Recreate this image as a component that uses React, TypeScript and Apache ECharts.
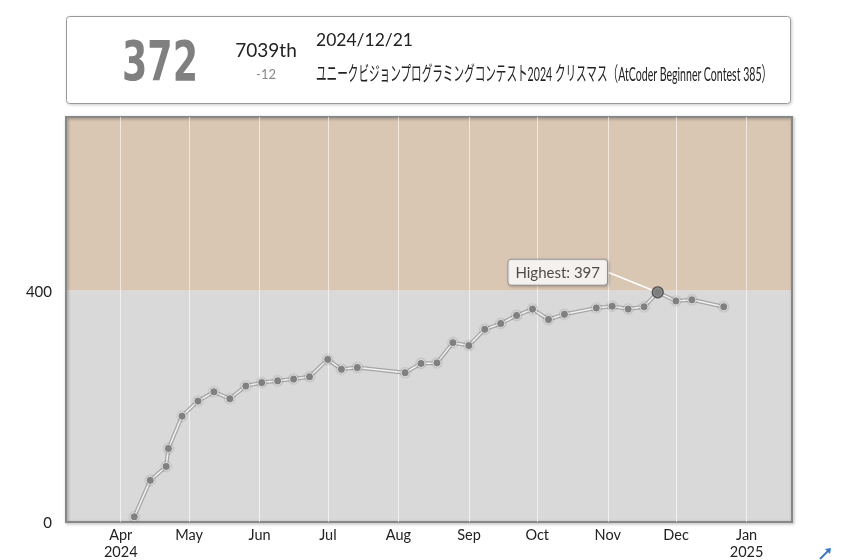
import React, { useEffect, useRef } from 'react';
import * as echarts from 'echarts';

// ---- data ----
const contestDates = [
  '2024-04-06', '2024-04-13', '2024-04-20', '2024-04-21', '2024-04-27',
  '2024-05-04', '2024-05-11', '2024-05-18', '2024-05-25',
  '2024-06-01', '2024-06-08', '2024-06-15', '2024-06-22', '2024-06-30',
  '2024-07-06', '2024-07-13',
  '2024-08-03', '2024-08-10', '2024-08-17', '2024-08-24', '2024-08-31',
  '2024-09-07', '2024-09-14', '2024-09-21', '2024-09-28',
  '2024-10-05', '2024-10-12', '2024-10-26',
  '2024-11-02', '2024-11-09', '2024-11-16', '2024-11-22', '2024-11-30',
  '2024-12-07', '2024-12-21',
];
const ratings = [
  9, 72, 96, 127, 183,
  209, 225, 213, 235,
  241, 244, 247, 251, 281,
  264, 267,
  258, 274, 275, 310, 305,
  333, 343, 357, 368,
  350, 359, 370,
  373, 368, 372, 397, 382,
  384, 372,
];
const monthTicks = [
  '2024-04-01', '2024-05-01', '2024-06-01', '2024-07-01', '2024-08-01',
  '2024-09-01', '2024-10-01', '2024-11-01', '2024-12-01', '2025-01-01',
];
const monthNames = ['Jan', 'Feb', 'Mar', 'Apr', 'May', 'Jun', 'Jul', 'Aug', 'Sep', 'Oct', 'Nov', 'Dec'];
const yTicks = [0, 400];
const yMax = 700;
const bandEdges = [0, 400, 800];
const latestRating = '372';
const latestRank = '7039th';
const latestDiff = '-12';
const latestDate = '2024/12/21';
const latestName = 'ユニークビジョンプログラミングコンテスト2024 クリスマス（AtCoder Beginner Contest 385）';

const bandColors = ['#D9D9D9', '#D9C6B3'];

export default function App() {
  const ref = useRef<HTMLDivElement>(null);
  useEffect(() => {
    const chart = echarts.init(ref.current!, null, { renderer: 'svg' });
    const DAY = 864e5;
    const times = contestDates.map((d) => new Date(d + 'T22:40:00').getTime());
    const data = times.map((t, i) => [t, ratings[i]]);
    const hi = ratings.indexOf(Math.max(...ratings));
    const xMin = times[0] - 30 * DAY;
    const xMax = times[times.length - 1] + 30 * DAY;
    const monthVals = monthTicks.map((m) => new Date(m + 'T00:00:00').getTime());

    const nameFamily = 'Lato, "Noto Sans CJK JP", sans-serif';
    const ratingFamily = '"DejaVu Sans Condensed", "DejaVu Sans", sans-serif';
    const ctx = document.createElement('canvas').getContext('2d')!;
    ctx.font = '20px ' + nameFamily;
    const nameW = ctx.measureText(latestName).width || 457;
    const sx = Math.min(1, 457 / nameW);
    ctx.font = 'bold 55px ' + ratingFamily;
    const ratingW = ctx.measureText(latestRating).width || 75;
    const rsx = Math.min(1, 76 / ratingW);

    const bandData = bandColors.map((c, i) => [
      { yAxis: bandEdges[i], itemStyle: { color: c } },
      { yAxis: Math.min(bandEdges[i + 1], yMax) },
    ]);

    const txt = (o: any) => ({
      type: 'text',
      z: 11,
      ...o,
      style: {
        fontFamily: 'Lato, sans-serif',
        fill: '#222',
        textVerticalAlign: 'middle',
        verticalAlign: 'middle',
        ...o.style,
      },
    });

    chart.setOption({
      animation: false,
      grid: {
        left: 66,
        top: 117,
        width: 726,
        height: 405,
        show: true,
        borderColor: '#888',
        borderWidth: 2,
        backgroundColor: 'transparent',
        shadowColor: 'rgba(0,0,0,0.35)',
        shadowBlur: 3,
        shadowOffsetX: 1,
        shadowOffsetY: 1,
      },
      xAxis: {
        type: 'value',
        min: xMin,
        max: xMax,
        scale: true,
        z: 1.5,
        axisLine: { show: false },
        axisTick: { show: false, customValues: monthVals },
        axisLabel: {
          customValues: monthVals,
          margin: 4,
          fontFamily: 'Lato, sans-serif',
          fontSize: 14.5,
          lineHeight: 17,
          color: '#222',
          formatter: (v: number) => {
            const d = new Date(v);
            const m = monthNames[d.getMonth()];
            return d.getMonth() === 0 || v === monthVals[0] ? m + '\n' + d.getFullYear() : m;
          },
        },
        splitLine: { show: true, lineStyle: { color: 'rgba(255,255,255,0.6)', width: 1 } },
      },
      yAxis: {
        type: 'value',
        min: 0,
        max: yMax,
        axisLine: { show: false },
        axisTick: { show: false, customValues: yTicks },
        axisLabel: {
          customValues: yTicks,
          margin: 14,
          fontFamily: 'Lato, sans-serif',
          fontSize: 15,
          color: '#222',
        },
        splitLine: { show: false },
      },
      graphic: [
        {
          type: 'rect',
          z: 10,
          shape: { x: 66.5, y: 16.5, width: 724, height: 87, r: 3 },
          style: {
            fill: '#fff',
            stroke: '#999',
            lineWidth: 1,
            shadowBlur: 3,
            shadowColor: 'rgba(0,0,0,0.2)',
            shadowOffsetX: 1,
            shadowOffsetY: 1,
          },
        },
        txt({
          x: 122,
          y: 61,
          scaleX: rsx,
          style: {
            text: latestRating,
            fontFamily: ratingFamily,
            fontWeight: 'bold',
            fontSize: 55,
            fill: '#808080',
            align: 'left',
            textAlign: 'left',
          },
        }),
        txt({ x: 266, y: 49, style: { text: latestRank, fontSize: 19, align: 'center', textAlign: 'center' } }),
        txt({ x: 266, y: 74, style: { text: latestDiff, fontSize: 13, fill: '#888', align: 'center', textAlign: 'center' } }),
        txt({ x: 316, y: 39, style: { text: latestDate, fontSize: 17.5, align: 'left', textAlign: 'left' } }),
        txt({
          x: 316,
          y: 73,
          scaleX: sx,
          style: {
            text: latestName,
            fontFamily: nameFamily,
            fontSize: 20,
            align: 'left',
            textAlign: 'left',
          },
        }),
        {
          type: 'line',
          z: 11,
          shape: { x1: 820, y1: 559, x2: 828, y2: 551 },
          style: { stroke: '#3B78C4', lineWidth: 2 },
        },
        {
          type: 'polygon',
          z: 11,
          shape: { points: [[825, 549], [831, 548], [830, 554]] },
          style: { fill: '#3B78C4' },
        },
      ],
      series: [
        {
          type: 'line',
          data: [],
          z: -1,
          silent: true,
          markArea: { silent: true, z: -1, data: bandData },
        },
        {
          type: 'line',
          data,
          symbol: 'none',
          silent: true,
          z: 2,
          lineStyle: { color: '#A6A6A6', width: 4 },
        },
        {
          type: 'line',
          data,
          z: 3,
          symbol: 'circle',
          symbolSize: 8,
          showSymbol: true,
          showAllSymbol: true,
          lineStyle: { color: '#F2F2F2', width: 1.5 },
          itemStyle: {
            color: '#808080',
            borderColor: '#DDDDDD',
            borderWidth: 1,
            shadowBlur: 2,
            shadowColor: 'rgba(0,0,0,0.4)',
          },
        },
        {
          type: 'scatter',
          z: 5,
          data: [data[hi]],
          symbolSize: 11,
          itemStyle: { color: '#7A7A7A', borderColor: '#3A3A3A', borderWidth: 1.2 },
          label: {
            show: true,
            position: 'inside',
            formatter: 'Highest: ' + ratings[hi],
            fontFamily: 'Lato, sans-serif',
            fontSize: 15,
            color: '#222',
            backgroundColor: '#fff',
            borderColor: '#888',
            borderWidth: 1,
            borderRadius: 3,
            padding: [5, 7],
            shadowColor: 'rgba(0,0,0,0.3)',
            shadowBlur: 3,
            shadowOffsetX: 1,
            shadowOffsetY: 1,
          },
          labelLayout: { dx: -100, dy: -20 },
          labelLine: { show: true, lineStyle: { color: '#fff', width: 1.5 } },
        },
      ],
    });
    return () => chart.dispose();
  }, []);
  return <div ref={ref} style={{ position: 'fixed', left: 0, top: 0, width: 850, height: 560 }} />;
}
